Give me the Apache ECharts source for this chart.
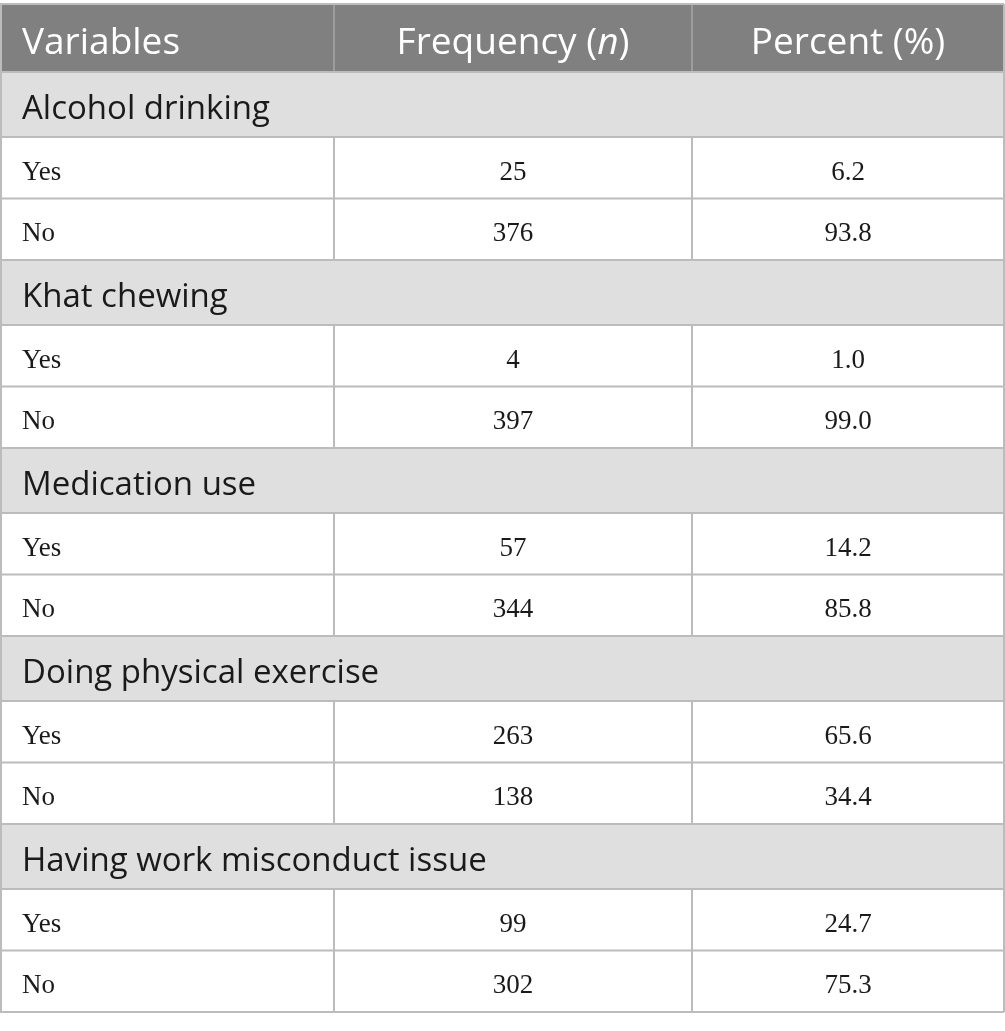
<!DOCTYPE html>
<html>
<head>
<meta charset="utf-8">
<script src="https://cdn.jsdelivr.net/npm/echarts@6/dist/echarts.min.js"></script>
<style>
  html, body { margin: 0; padding: 0; background: #fff; }
  #chart { width: 1005px; height: 1031px; }
</style>
</head>
<body>
<div id="chart"></div>
<script>
// --- table data ---
var headers = ['Variables', 'Frequency (n)', 'Percent (%)'];
var groups = ['Alcohol drinking', 'Khat chewing', 'Medication use', 'Doing physical exercise', 'Having work misconduct issue'];
var answers = ['Yes', 'No'];
var frequency = [[25, 376], [4, 397], [57, 344], [263, 138], [99, 302]];
var percent = [[6.2, 93.8], [1.0, 99.0], [14.2, 85.8], [65.6, 34.4], [24.7, 75.3]];

(function() {
  // layout (page units, mapped through the axes)
  var W = 1005, H = 1031;
  var colEdges = [0, 334, 692, 1004];
  var top = 4, headerH = 68, groupH = 65, itemH = 61.5, padLeft = 22;
  var headBg = '#7f807f', headDiv = '#9c9d9c', groupBg = '#e0dfe0', rule = '#bcbcbc';
  var sans = '"Open Sans", "Noto Sans", sans-serif';
  var serif = '"Liberation Serif", "DejaVu Serif", serif';

  // build rows from the arrays
  var rows = [];
  var y = top;
  rows.push({ kind: 'header', y0: y, y1: y + headerH, cells: headers });
  y += headerH;
  groups.forEach(function(g, gi) {
    rows.push({ kind: 'group', y0: y, y1: y + groupH, cells: [g] });
    y += groupH;
    answers.forEach(function(a, ai) {
      rows.push({
        kind: 'item', y0: y, y1: y + itemH,
        cells: [a, String(frequency[gi][ai]), percent[gi][ai].toFixed(1)]
      });
      y += itemH;
    });
  });

  var seriesData = rows.map(function(r, i) { return [i, r.y0, r.y1]; });

  function cellText(x, yc, text, align, style) {
    return {
      type: 'text',
      style: Object.assign({ x: x, y: yc, text: text, align: align, verticalAlign: 'middle' }, style)
    };
  }

  function renderCells(params, api) {
    var r = rows[api.value(0)];
    var a = api.coord([0, api.value(1)]);
    var b = api.coord([W, api.value(2)]);
    var xs = colEdges.map(function(e) { return api.coord([e, 0])[0]; });
    var yc = (a[1] + b[1]) / 2;
    var children = [];
    var bg = r.kind === 'header' ? headBg : (r.kind === 'group' ? groupBg : '#ffffff');
    children.push({ type: 'rect', shape: { x: xs[0], y: a[1], width: xs[3] - xs[0], height: b[1] - a[1] }, style: { fill: bg } });

    if (r.kind === 'header') {
      var hs = { fill: '#ffffff', font: '37px ' + sans };
      children.push(cellText(xs[0] + padLeft, yc + 5, r.cells[0], 'left', hs));
      children.push({
        type: 'text',
        style: {
          x: (xs[1] + xs[2]) / 2, y: yc + 5, align: 'center', verticalAlign: 'middle',
          text: '{n|Frequency (}{i|n}{n|)}',
          rich: {
            n: { fill: '#ffffff', font: '37px ' + sans },
            i: { fill: '#ffffff', font: 'italic 37px ' + sans }
          }
        }
      });
      children.push(cellText((xs[2] + xs[3]) / 2, yc + 5, r.cells[2], 'center', hs));
    } else if (r.kind === 'group') {
      children.push(cellText(xs[0] + padLeft, yc + 5, r.cells[0], 'left', { fill: '#1a1a1a', font: '33px ' + sans }));
    } else {
      var ds = { fill: '#1a1a1a', font: '27px ' + serif };
      children.push(cellText(xs[0] + padLeft, yc + 5, r.cells[0], 'left', ds));
      children.push(cellText((xs[1] + xs[2]) / 2, yc + 5, r.cells[1], 'center', ds));
      children.push(cellText((xs[2] + xs[3]) / 2, yc + 5, r.cells[2], 'center', ds));
    }
    return { type: 'group', children: children };
  }

  function renderRules(params, api) {
    var r = rows[api.value(0)];
    var a = api.coord([0, api.value(1)]);
    var b = api.coord([W, api.value(2)]);
    var xs = colEdges.map(function(e) { return api.coord([e, 0])[0]; });
    var children = [];
    var ls = { stroke: rule, lineWidth: 2 };
    if (r.kind === 'header') {
      children.push({ type: 'line', shape: { x1: xs[0], y1: a[1], x2: xs[3], y2: a[1] }, style: ls });
      [1, 2].forEach(function(k) {
        children.push({ type: 'line', shape: { x1: xs[k], y1: a[1] + 1, x2: xs[k], y2: b[1] - 1 }, style: { stroke: headDiv, lineWidth: 2 } });
      });
    }
    if (r.kind === 'item') {
      [1, 2].forEach(function(k) {
        children.push({ type: 'line', shape: { x1: xs[k], y1: a[1], x2: xs[k], y2: b[1] }, style: ls });
      });
    }
    children.push({ type: 'line', shape: { x1: xs[0], y1: b[1], x2: xs[3], y2: b[1] }, style: ls });
    children.push({ type: 'line', shape: { x1: xs[0] + 1, y1: a[1], x2: xs[0] + 1, y2: b[1] }, style: ls });
    children.push({ type: 'line', shape: { x1: xs[3], y1: a[1], x2: xs[3], y2: b[1] }, style: ls });
    return { type: 'group', children: children };
  }

  var chart = echarts.init(document.getElementById('chart'));
  chart.setOption({
    animation: false,
    backgroundColor: '#ffffff',
    grid: { left: 0, right: 0, top: 0, bottom: 0 },
    xAxis: { type: 'value', min: 0, max: W, show: false },
    yAxis: { type: 'value', min: 0, max: H, inverse: true, show: false },
    series: [
      { type: 'custom', renderItem: renderCells, data: seriesData, z: 2, silent: true },
      { type: 'custom', renderItem: renderRules, data: seriesData, z: 3, silent: true }
    ]
  });
  window.addEventListener('resize', function() { chart.resize(); });
})();
</script>
</body>
</html>
